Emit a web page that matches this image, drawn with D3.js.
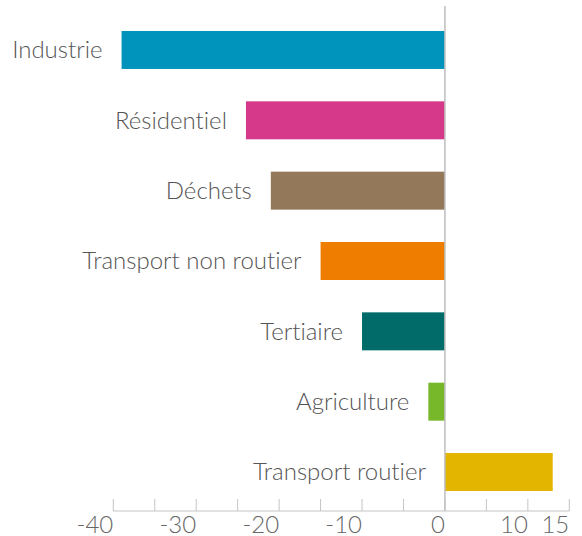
<!DOCTYPE html>
<html>
<head>
<meta charset="utf-8">
<script src="https://cdn.jsdelivr.net/npm/d3@7"></script>
<style>
  body { margin: 0; background: #fff; }
  text { font-family: Lato, "Open Sans", sans-serif; font-weight: 300; font-variant-ligatures: none; }
</style>
</head>
<body>
<div id="chart"></div>
<script>
// data ---------------------------------------------------------
const sectors = ['Industrie', 'Résidentiel', 'Déchets', 'Transport non routier',
                 'Tertiaire', 'Agriculture', 'Transport routier'];
const values  = [-39, -24, -21, -15, -10, -2, 13];
const colors  = ['#0093bb', '#d6388a', '#94785a', '#ef7d00', '#006b68', '#77b82a', '#e3b400'];
const tickValues = [-40, -30, -20, -10, 0, 10, 15];

const width = 582, height = 536;

const x = d3.scaleLinear()
            .domain([-40, 15])
            .range([113.3, 569.3]);
const y = d3.scaleBand()
            .domain(sectors)
            .range([14.8, 507.2])
            .paddingInner(0.46)
            .paddingOuter(0.23);

const svg = d3.select('#chart').append('svg')
              .attr('width', width)
              .attr('height', height);

const rows = sectors.map((s, i) => ({ name: s, value: values[i], color: colors[i] }));

// bars
svg.selectAll('rect.bar')
   .data(rows)
   .enter()
   .append('rect')
     .attr('class', 'bar')
     .attr('x', d => x(Math.min(0, d.value)))
     .attr('y', d => y(d.name))
     .attr('width', d => Math.abs(x(d.value) - x(0)))
     .attr('height', y.bandwidth())
     .attr('fill', d => d.color);

// category labels, just left of each bar
svg.selectAll('text.label')
   .data(rows)
   .enter()
   .append('text')
     .attr('class', 'label')
     .attr('x', d => x(Math.min(0, d.value)) - 19)
     .attr('y', d => y(d.name) + y.bandwidth() / 2)
     .attr('dy', '0.35em')
     .attr('text-anchor', 'end')
     .attr('font-size', '24px')
     .attr('fill', '#555')
     .text(d => d.name);

// zero line
svg.append('line')
   .attr('x1', x(0)).attr('x2', x(0))
   .attr('y1', 6).attr('y2', 511)
   .attr('stroke', '#bdbdbd')
   .attr('stroke-width', 1.5);

// bottom axis: minor ticks every 5, labels on selected values
const axisY = 511;
const g = svg.append('g').attr('transform', `translate(0,${axisY})`);
g.append('line')
 .attr('x1', x(-40)).attr('x2', x(15))
 .attr('stroke', '#c4c4c4')
 .attr('stroke-width', 1);
g.selectAll('line.tick')
 .data(d3.range(-40, 16, 5))
 .enter()
 .append('line')
   .attr('class', 'tick')
   .attr('x1', d => x(d)).attr('x2', d => x(d))
   .attr('y1', -12).attr('y2', 0)
   .attr('stroke', '#c4c4c4')
   .attr('stroke-width', 1);
g.selectAll('text.tick')
 .data(tickValues)
 .enter()
 .append('text')
   .attr('class', 'tick')
   .attr('x', d => x(d))
   .attr('y', 21.5)
   .attr('text-anchor', 'end')
   .attr('font-size', '24px')
   .attr('fill', '#666')
   .text(d => d);
</script>
</body>
</html>
